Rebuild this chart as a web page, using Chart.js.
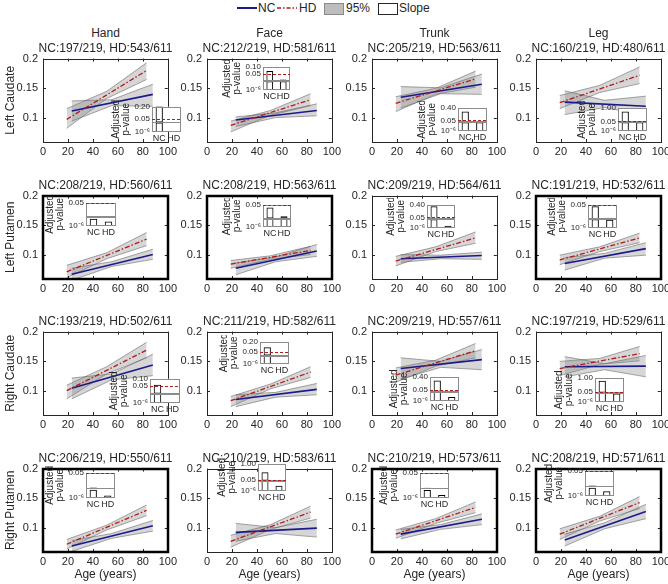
<!DOCTYPE html>
<html><head><meta charset="utf-8">
<script src="https://cdn.jsdelivr.net/npm/chart.js@4.4.1/dist/chart.umd.min.js"></script>
<style>
html,body{margin:0;padding:0;background:#fff;width:668px;height:584px;overflow:hidden;position:relative;font-family:"Liberation Sans",Arial,Helvetica,sans-serif;color:#262626}
canvas{position:absolute}
.t{position:absolute;white-space:nowrap;font-size:12px;line-height:14px;transform:translateX(-50%)}
.lg{position:absolute;white-space:nowrap;font-size:12px;line-height:14px;top:1px}
</style></head><body>
<div style="position:absolute;left:237px;top:7px;width:20px;height:2px;background:#1a1a8c"></div>
<span class="lg" style="left:258px">NC</span>
<svg style="position:absolute;left:277px;top:5px" width="20" height="6"><line x1="0" y1="3" x2="20" y2="3" stroke="#b31b1b" stroke-width="1.3" stroke-dasharray="4,2,1.5,2"/></svg>
<span class="lg" style="left:299px">HD</span>
<div style="position:absolute;left:324px;top:3px;width:18px;height:10px;background:#bdbdbd;border:1px solid #8a8a8a"></div>
<span class="lg" style="left:346px">95%</span>
<div style="position:absolute;left:378px;top:3px;width:18px;height:10px;background:#fff;border:1px solid #262626"></div>
<span class="lg" style="left:399px">Slope</span>
<script>
// ---------------- data ----------------
const regions = ['Left Caudate','Left Putamen','Right Caudate','Right Putamen'];
const parts = ['Hand','Face','Trunk','Leg'];
const ncTotal = 219, hdTotal = 611;
const ncIncluded = [197,212,205,160, 208,208,209,191, 193,211,209,197, 206,210,210,208];
const hdIncluded = [543,581,563,480, 560,563,564,532, 502,582,557,529, 550,583,573,571];
const xTicks = [0,20,40,60,80,100];
const yTicks = [0.1,0.15,0.2];
const ncAges = [23,55,88];   // NC fit: start, middle, end age
const hdAges = [19,51,83];   // HD fit: start, middle, end age
const ncLine = [[0.112,0.140],[0.097,0.113],[0.135,0.157],[0.127,0.120],
                [0.068,0.101],[0.078,0.107],[0.094,0.0995],[0.086,0.111],
                [0.105,0.144],[0.086,0.103],[0.138,0.153],[0.141,0.142],
                [0.070,0.104],[0.093,0.100],[0.090,0.115],[0.080,0.128]];
const ncUpper = [[0.129,0.131,0.157],[0.102,0.109,0.124],[0.153,0.151,0.174],[0.146,0.130,0.137],
                 [0.078,0.089,0.110],[0.087,0.097,0.118],[0.101,0.100,0.105],[0.096,0.103,0.121],
                 [0.122,0.129,0.162],[0.094,0.098,0.113],[0.156,0.150,0.170],[0.158,0.146,0.160],
                 [0.079,0.091,0.113],[0.108,0.101,0.115],[0.098,0.106,0.124],[0.090,0.109,0.140]];
const ncLower = [[0.095,0.121,0.120],[0.086,0.101,0.104],[0.117,0.141,0.140],[0.106,0.118,0.104],
                 [0.058,0.081,0.093],[0.067,0.089,0.098],[0.088,0.094,0.093],[0.075,0.095,0.100],
                 [0.087,0.119,0.126],[0.074,0.090,0.094],[0.120,0.140,0.136],[0.124,0.136,0.124],
                 [0.061,0.083,0.095],[0.078,0.091,0.085],[0.082,0.098,0.106],[0.070,0.099,0.116]];
const hdLine = [[0.098,0.180],[0.088,0.131],[0.125,0.166],[0.126,0.172],
                [0.072,0.127],[0.085,0.108],[0.090,0.129],[0.092,0.129],
                [0.101,0.169],[0.084,0.132],[0.127,0.168],[0.138,0.163],
                [0.073,0.130],[0.078,0.127],[0.090,0.135],[0.090,0.143]];
const hdUpper = [[0.116,0.145,0.193],[0.095,0.113,0.141],[0.136,0.150,0.179],[0.138,0.155,0.186],
                 [0.083,0.104,0.138],[0.091,0.099,0.115],[0.098,0.114,0.139],[0.100,0.114,0.137],
                 [0.110,0.141,0.182],[0.091,0.112,0.141],[0.139,0.152,0.180],[0.150,0.155,0.175],
                 [0.081,0.105,0.139],[0.088,0.106,0.137],[0.097,0.116,0.144],[0.099,0.120,0.153]];
const hdLower = [[0.083,0.133,0.165],[0.077,0.105,0.121],[0.111,0.140,0.152],[0.116,0.143,0.158],
                 [0.062,0.094,0.116],[0.078,0.093,0.101],[0.082,0.106,0.120],[0.084,0.106,0.121],
                 [0.087,0.129,0.156],[0.074,0.104,0.123],[0.115,0.142,0.156],[0.126,0.145,0.151],
                 [0.065,0.097,0.121],[0.068,0.098,0.117],[0.083,0.108,0.126],[0.081,0.112,0.133]];
// inset: adjusted p-values of the slopes
const pTop = [0.20,0.10,0.40,1.00, 0.05,0.05,0.40,0.05, 0.10,0.20,0.40,1.00, 0.05,1.00,0.05,0.05];
const pNC  = [0.21,0.07,0.30,0.75, 0.002,0.04,0.36,0.045, 0.06,0.12,0.30,0.80, 0.003,0.5,0.002,0.003];
const pHD  = [1.5e-6,0.012,0.015,0.02, 1e-4,0.008,1e-5,0.005, 1.5e-6,3e-6,5e-5,0.005, 1e-5,1e-4,2e-5,1e-4];
const P_THRESH = 0.05, LOG_MIN = 1e-6, LOG_MAX = 0.01;
const thickPanels = [4,5,7,12,14,15];

// ---------------- layout ----------------
const plotLeft = [43,207,372,536], plotTop = [55,192,328,465], PW = 125, PH = 87;
const insetBox = [[152,106,29,26],[263,66,27,24],[458,107,29,24],[618,107,29,24],
                  [86,202,30,24],[263,204,28,23],[427,204,28,24],[588,204,29,24],
                  [150,378,30,25],[260,341,29,23],[430,376,29,25],[595,377,29,25],
                  [86,472,29,26],[258,463,28,28],[420,472,29,26],[585,470,29,26]];
const NC_COLOR = '#1a1a8c', HD_COLOR = '#b31b1b', TXT = '#262626';
const BAND_FILL = 'rgba(128,128,128,0.32)', BAND_EDGE = 'rgba(95,95,95,0.8)';

Chart.defaults.font.family = '"Liberation Sans", Arial, Helvetica, sans-serif';
Chart.defaults.color = TXT;

function mk(l,t,w,h){const c=document.createElement('canvas');c.width=w;c.height=h;c.style.left=l+'px';c.style.top=t+'px';c.style.width=w+'px';c.style.height=h+'px';document.body.appendChild(c);return c;}
function txt(s,cx,top){const d=document.createElement('div');d.className='t';d.textContent=s;d.style.left=cx+'px';d.style.top=top+'px';document.body.appendChild(d);}

const frame = {
  id:'frame',
  afterDatasetsDraw(chart,args,o){
    const {ctx,chartArea:a}=chart, x=chart.scales.x, y=chart.scales.y;
    ctx.save(); ctx.strokeStyle=TXT; ctx.lineWidth=1; ctx.beginPath();
    const L=3;
    x.ticks.forEach((t,k)=>{const p=Math.round(x.getPixelForTick(k))+0.5;ctx.moveTo(p,a.bottom);ctx.lineTo(p,a.bottom-L);ctx.moveTo(p,a.top);ctx.lineTo(p,a.top+L);});
    y.ticks.forEach((t,k)=>{const p=Math.round(y.getPixelForTick(k))+0.5;ctx.moveTo(a.left,p);ctx.lineTo(a.left+L,p);ctx.moveTo(a.right,p);ctx.lineTo(a.right-L,p);});
    ctx.stroke();
    ctx.lineWidth=o.width; ctx.strokeStyle=o.color;
    const off=o.width===1?0.5:0;
    ctx.strokeRect(Math.round(a.left)+off,Math.round(a.top)+off,Math.round(a.width),Math.round(a.height));
    ctx.restore();
  }
};

const insetFrame = {
  id:'insetFrame',
  beforeDraw(chart){const {ctx,chartArea:a}=chart;ctx.save();ctx.fillStyle='#fff';ctx.fillRect(a.left,a.top,a.width,a.height);ctx.restore();},
  afterDatasetsDraw(chart){
    const {ctx,chartArea:a}=chart, yTop=chart.scales.yTop, yBot=chart.scales.yBot;
    ctx.save(); ctx.strokeStyle='#8c8c8c'; ctx.lineWidth=1;
    const l=Math.round(a.left)+0.5, w=Math.round(a.width)-1;
    ctx.strokeRect(l,Math.round(yTop.top)+0.5,w,Math.round(yTop.bottom-yTop.top)-1);
    ctx.strokeRect(l,Math.round(yBot.top)+0.5,w,Math.round(yBot.bottom-yBot.top)-1);
    const py=Math.round(yTop.getPixelForValue(P_THRESH))+0.5;
    ctx.strokeStyle=HD_COLOR; ctx.setLineDash([3,2]); ctx.lineWidth=1.2;
    ctx.beginPath(); ctx.moveTo(a.left,py); ctx.lineTo(a.right,py); ctx.stroke();
    ctx.restore();
  }
};

function pts(xs,ys){return xs.map((x,k)=>({x:x,y:ys[k]}));}

function mainChart(i){
  const r=Math.floor(i/4), c=i%4;
  const yW=c===0?43:36, padT=8, padR=12, xH=r===3?30:18;
  const W=yW+PW+padR, H=padT+PH+xH;
  const cv=mk(plotLeft[c]-yW, plotTop[r]-padT, W, H);
  const thick=thickPanels.includes(i);
  const lineEnds=[0,2];
  new Chart(cv,{
    type:'line',
    data:{datasets:[
      {label:'HD',data:pts(lineEnds.map(k=>hdAges[k]),hdLine[i]),borderColor:HD_COLOR,borderWidth:1.3,borderDash:[5,2,1.5,2],pointRadius:0,fill:false},
      {label:'NC',data:pts(lineEnds.map(k=>ncAges[k]),ncLine[i]),borderColor:NC_COLOR,borderWidth:1.6,pointRadius:0,fill:false},
      {label:'NC 95% upper',data:pts(ncAges,ncUpper[i]),borderColor:BAND_EDGE,borderWidth:0.7,backgroundColor:BAND_FILL,pointRadius:0,fill:'+1'},
      {label:'NC 95% lower',data:pts(ncAges,ncLower[i]),borderColor:BAND_EDGE,borderWidth:0.7,pointRadius:0,fill:false},
      {label:'HD 95% upper',data:pts(hdAges,hdUpper[i]),borderColor:BAND_EDGE,borderWidth:0.7,backgroundColor:BAND_FILL,pointRadius:0,fill:'+1'},
      {label:'HD 95% lower',data:pts(hdAges,hdLower[i]),borderColor:BAND_EDGE,borderWidth:0.7,pointRadius:0,fill:false}
    ]},
    options:{
      responsive:false,animation:false,events:[],devicePixelRatio:1,
      layout:{padding:{top:padT,right:padR,left:0,bottom:0}},
      plugins:{legend:{display:false},tooltip:{enabled:false},frame:{width:thick?2.5:1,color:thick?'#000':TXT}},
      scales:{
        x:{type:'linear',min:0,max:100,
           afterBuildTicks:s=>{s.ticks=xTicks.map(v=>({value:v}));},
           ticks:{font:{size:11},color:TXT,padding:3,maxRotation:0,autoSkip:false},
           grid:{display:false,drawTicks:false},border:{display:false},
           title:{display:r===3,text:'Age (years)',font:{size:12},color:TXT,padding:{top:0,bottom:0}},
           afterFit:s=>{s.height=xH;}},
        y:{type:'linear',min:0.06,max:0.2,
           afterBuildTicks:s=>{s.ticks=yTicks.map(v=>({value:v}));},
           ticks:{font:{size:11},color:TXT,padding:5,autoSkip:false,callback:v=>String(v)},
           grid:{display:false,drawTicks:false},border:{display:false},
           title:{display:c===0,text:regions[r],font:{size:12},color:TXT,padding:{top:3,bottom:0}},
           afterFit:s=>{s.width=yW;}}
      }
    },
    plugins:[frame]
  });
  if(r===0) txt(parts[c], plotLeft[c]+PW/2, 26);
  txt('NC:'+ncIncluded[i]+'/'+ncTotal+', HD:'+hdIncluded[i]+'/'+hdTotal, plotLeft[c]+PW/2, plotTop[r]-14);
}

function insetChart(i){
  const [bx,by,bw,bh]=insetBox[i];
  const tW=20,kW=21,padT=6,padR=4,xH=11;
  const cv=mk(bx-tW-kW, by-padT, tW+kW+bw+padR, padT+bh+xH);
  const ps=[pNC[i],pHD[i]];
  const bar={backgroundColor:'rgba(255,255,255,0)',borderColor:'#000',borderWidth:1,borderSkipped:false,barPercentage:0.5,categoryPercentage:1,grouped:false};
  const top=pTop[i];
  new Chart(cv,{
    type:'bar',
    data:{labels:['NC','HD'],datasets:[
      Object.assign({label:'log part',data:ps.map(p=>[LOG_MIN,Math.min(p,LOG_MAX)]),yAxisID:'yBot'},bar),
      Object.assign({label:'linear part',data:ps.map(p=>[0,p]),yAxisID:'yTop'},bar)
    ]},
    options:{
      responsive:false,animation:false,events:[],devicePixelRatio:1,
      layout:{padding:{top:padT,right:padR,left:0,bottom:0}},
      plugins:{legend:{display:false},tooltip:{enabled:false}},
      scales:{
        x:{type:'category',offset:true,grid:{display:false,drawTicks:false},border:{display:false},
           ticks:{font:{size:9},color:TXT,padding:1,maxRotation:0,autoSkip:false},
           afterFit:s=>{s.height=xH;}},
        yBot:{type:'logarithmic',position:'left',stack:'p',stackWeight:8,min:LOG_MIN,max:LOG_MAX,
           afterBuildTicks:s=>{s.ticks=[{value:LOG_MIN}];},
           ticks:{font:{size:8},color:TXT,padding:2,autoSkip:false,callback:()=>'10⁻⁶'},
           grid:{display:false,drawTicks:false},border:{display:false},
           afterFit:s=>{s.width=kW;}},
        yTop:{type:'linear',position:'left',stack:'p',stackWeight:13,min:0,max:top,
           afterBuildTicks:s=>{s.ticks=(top>P_THRESH?[P_THRESH,top]:[P_THRESH]).map(v=>({value:v}));},
           ticks:{font:{size:8},color:TXT,padding:2,autoSkip:false,callback:v=>v.toFixed(2)},
           grid:{display:false,drawTicks:false},border:{display:false},
           afterFit:s=>{s.width=kW;}},
        yT:{type:'linear',position:'left',weight:10,min:0,max:1,
           ticks:{display:false},grid:{display:false,drawTicks:false},border:{display:false},
           title:{display:true,text:['Adjusted','p-value'],font:{size:10,lineHeight:1.0},color:TXT,padding:{top:0,bottom:0}},
           afterFit:s=>{s.width=tW;}}
      }
    },
    plugins:[insetFrame]
  });
}

for(let i=0;i<16;i++) mainChart(i);
for(let i=0;i<16;i++) insetChart(i);
</script>
</body></html>
